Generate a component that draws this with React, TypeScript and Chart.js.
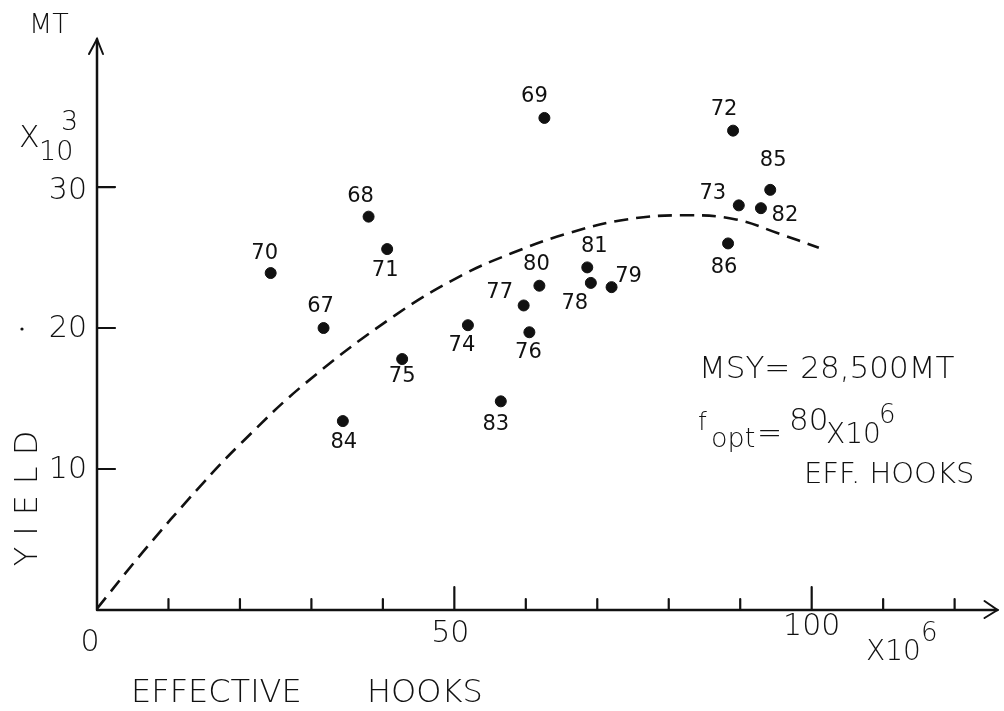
import React, { useEffect, useRef } from "react";
import { Chart, registerables } from "chart.js";

Chart.register(...registerables);

// ---- data ----
const years = ["67", "68", "69", "70", "71", "72", "73", "74", "75", "76", "77", "78", "79", "80", "81", "82", "83", "84", "85", "86"];
const effortHooks = [31.7, 38.0, 62.6, 24.3, 40.6, 89.0, 89.8, 51.9, 42.7, 60.5, 59.7, 69.1, 72.0, 61.9, 68.6, 92.9, 56.5, 34.4, 94.2, 88.3];
const yieldMT = [20.0, 27.9, 34.9, 23.9, 25.6, 34.0, 28.7, 20.2, 17.8, 19.7, 21.6, 23.2, 22.9, 23.0, 24.3, 28.5, 14.8, 13.4, 29.8, 26.0];

const curveEffort = [0, 6.4, 14.3, 20.3, 29.2, 41.7, 50.9, 58.0, 65.8, 74.1, 82.5, 89.4, 95.4, 101.0];
const curveYield = [0.1, 4.1, 8.7, 11.9, 16.1, 20.9, 23.7, 25.3, 26.7, 27.7, 28.0, 27.7, 26.7, 25.7];

const xTickValues = [10, 20, 30, 40, 50, 60, 70, 80, 90, 100, 110, 120];
const xMajorTicks = [50, 100];
const xLabelValues = [0, 50, 100];
const xLabelTexts = ["0", "50", "100"];
const yTickValues = [10, 20, 30];
const yLabelTexts = ["10", "20", "30"];

const X_MAX = 126;
const Y_MAX = 40.5;

// ---- styles (label placement offsets in px, not data) ----
const labelOffsets: [number, number][] = [
  [-3, -21], [-8, -20], [-10, -21], [-6, -19], [-2, 21], [-9, -21], [-26, -12], [-6, 20], [0, 18], [-1, 20],
  [-24, -13], [-16, 21], [17, -11], [-3, -21], [7, -21], [24, 7], [-5, 23], [1, 21], [3, -29], [-4, 24],
];
const xLabelDy = [33, 24, 17];
const FONT = '"DejaVu Sans", "Liberation Sans", sans-serif';
const INK = "#111";

function f(size: number, weight = 200) {
  return `${weight} ${size}px ${FONT}`;
}

const drawPlugin = {
  id: "handDrawn",
  afterDraw(chart: any) {
    const ctx: CanvasRenderingContext2D = chart.ctx;
    const xs = chart.scales.x;
    const ys = chart.scales.y;
    const x0 = xs.getPixelForValue(0);
    const y0 = ys.getPixelForValue(0);
    const xEnd = xs.getPixelForValue(X_MAX);
    const yTop = ys.getPixelForValue(Y_MAX);
    ctx.save();
    ctx.strokeStyle = INK;
    ctx.fillStyle = INK;
    ctx.lineCap = "round";

    // axes
    ctx.lineWidth = 2.5;
    ctx.beginPath();
    ctx.moveTo(x0, y0);
    ctx.lineTo(xEnd, y0);
    ctx.moveTo(x0, y0);
    ctx.lineTo(x0, yTop);
    ctx.stroke();
    // arrow heads
    ctx.lineWidth = 2;
    ctx.beginPath();
    ctx.moveTo(xEnd - 13, y0 - 9);
    ctx.lineTo(xEnd, y0);
    ctx.lineTo(xEnd - 13, y0 + 8);
    ctx.moveTo(x0 - 8, yTop + 15);
    ctx.lineTo(x0, yTop);
    ctx.lineTo(x0 + 6, yTop + 15);
    ctx.stroke();

    // ticks
    ctx.lineWidth = 2.2;
    ctx.beginPath();
    xTickValues.forEach((v) => {
      const px = xs.getPixelForValue(v);
      const len = xMajorTicks.includes(v) ? 23 : 11;
      ctx.moveTo(px, y0);
      ctx.lineTo(px, y0 - len);
    });
    yTickValues.forEach((v) => {
      const py = ys.getPixelForValue(v);
      ctx.moveTo(x0, py);
      ctx.lineTo(x0 + 18, py);
    });
    ctx.stroke();

    // tick labels
    ctx.textAlign = "center";
    ctx.textBaseline = "middle";
    ctx.font = f(30);
    xLabelValues.forEach((v, i) => {
      const px = xs.getPixelForValue(v) - (v === 0 ? 7 : v === 50 ? 4 : 0);
      ctx.fillText(xLabelTexts[i], px, y0 + xLabelDy[i]);
    });
    ctx.textAlign = "right";
    yTickValues.forEach((v, i) => {
      const py = ys.getPixelForValue(v);
      ctx.fillText(yLabelTexts[i], x0 - 10, py + (v === 30 ? 4 : 1));
    });
    // small stray dot before 20
    ctx.beginPath();
    ctx.arc(22, ys.getPixelForValue(20) + 1, 1.6, 0, Math.PI * 2);
    ctx.fill();

    // x-axis multiplier
    ctx.textAlign = "left";
    ctx.textBaseline = "alphabetic";
    ctx.font = f(28);
    ctx.fillText("X10", 866, 660);
    ctx.font = f(26);
    ctx.fillText("6", 921, 641);

    // y-axis unit
    ctx.font = f(27);
    ctx.fillText("MT", 29, 33);
    ctx.font = f(30);
    ctx.fillText("X", 19, 147);
    ctx.font = f(27);
    ctx.fillText("10", 39, 160);
    ctx.fillText("3", 61, 130);

    // axis titles
    ctx.font = f(32);
    ctx.fillText("EFFECTIVE", 131, 702);
    ctx.fillText("HOOKS", 367, 702);
    ctx.save();
    ctx.translate(29, 498);
    ctx.rotate(-Math.PI / 2);
    ctx.textAlign = "center";
    ctx.textBaseline = "middle";
    ctx.font = f(32);
    (ctx as any).letterSpacing = "11px";
    ctx.fillText("YIELD", 5, 0);
    ctx.restore();

    // MSY annotation
    ctx.font = f(31);
    ctx.fillText("MSY= 28,500MT", 699, 378);
    ctx.font = f(25);
    ctx.fillText("f", 698, 430);
    ctx.font = f(27);
    ctx.fillText("opt", 711, 447);
    ctx.font = f(30);
    ctx.fillText("=", 757, 443);
    ctx.font = f(31);
    ctx.fillText("80", 789, 430);
    ctx.font = f(28);
    ctx.fillText("X10", 826, 443);
    ctx.font = f(26);
    ctx.fillText("6", 879, 423);
    ctx.font = f(29);
    ctx.fillText("EFF. HOOKS", 804, 483);

    // point labels
    ctx.textAlign = "center";
    ctx.textBaseline = "middle";
    ctx.font = f(21, 400);
    years.forEach((yr, i) => {
      const px = xs.getPixelForValue(effortHooks[i]);
      const py = ys.getPixelForValue(yieldMT[i]);
      const [dx, dy] = labelOffsets[i];
      ctx.fillText(yr, px + dx, py + dy);
    });
    ctx.restore();
  },
};

export default function App() {
  const canvasRef = useRef<HTMLCanvasElement | null>(null);

  useEffect(() => {
    if (!canvasRef.current) return;
    const points = effortHooks.map((x, i) => ({ x, y: yieldMT[i] }));
    const curve = curveEffort.map((x, i) => ({ x, y: curveYield[i] }));
    const chart = new Chart(canvasRef.current, {
      type: "scatter",
      data: {
        datasets: [
          {
            type: "line",
            label: "Surplus production curve",
            data: curve,
            borderColor: INK,
            borderWidth: 2.6,
            borderDash: [14, 8],
            pointRadius: 0,
            fill: false,
            tension: 0.4,
            order: 2,
          } as any,
          {
            type: "scatter",
            label: "Yield by year",
            data: points,
            backgroundColor: INK,
            borderColor: INK,
            pointRadius: 5.5,
            order: 1,
          },
        ],
      },
      options: {
        animation: false,
        responsive: false,
        devicePixelRatio: 1,
        layout: { padding: { left: 97, right: 1, top: 39, bottom: 101 } },
        plugins: { legend: { display: false }, tooltip: { enabled: false }, title: { display: false } },
        scales: {
          x: { type: "linear", min: 0, max: X_MAX, display: false },
          y: { type: "linear", min: 0, max: Y_MAX, display: false },
        },
      },
      plugins: [drawPlugin],
    });
    return () => chart.destroy();
  }, []);

  return (
    <div style={{ position: "absolute", left: 0, top: 0, width: 1004, height: 711, background: "#fff" }}>
      <canvas ref={canvasRef} width={1004} height={711} />
    </div>
  );
}
